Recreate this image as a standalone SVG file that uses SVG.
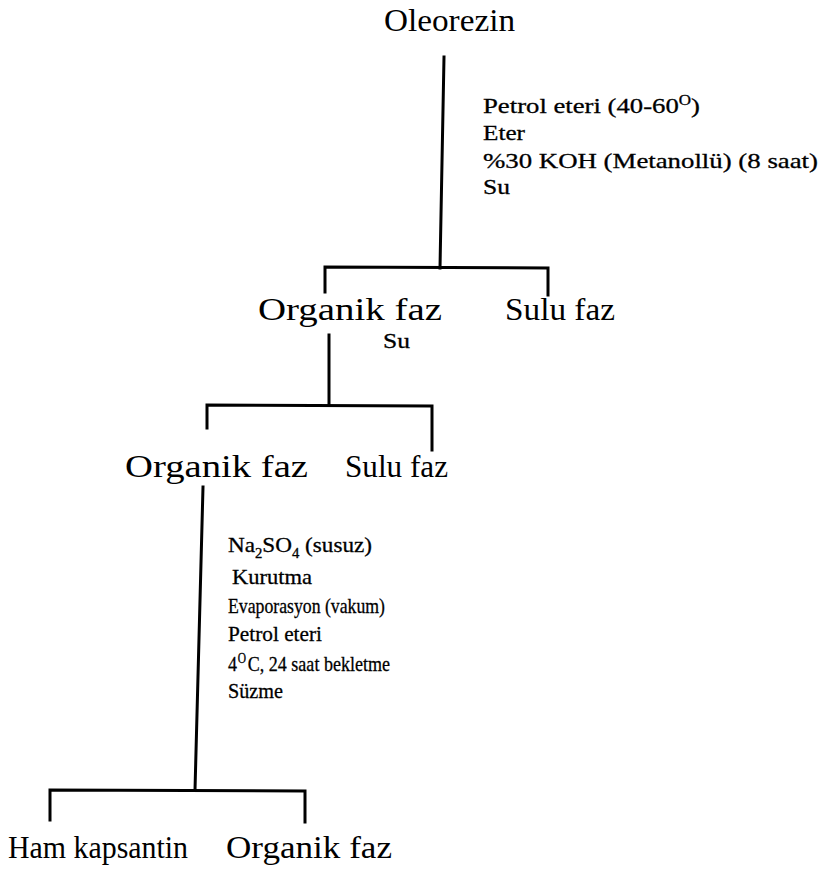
<svg xmlns="http://www.w3.org/2000/svg" width="820" height="871" viewBox="0 0 820 871">
<style>
.ln{stroke:#000;stroke-width:3;fill:none;stroke-linecap:square}
.big{font-family:"Liberation Serif","Times New Roman",serif;font-size:31px;fill:#000}
.lbl{font-family:"Liberation Serif","Times New Roman",serif;font-size:22px;fill:#000;stroke:#000;stroke-width:0.3}
.sm{font-size:14px}
</style>
<rect width="820" height="871" fill="#fff"/>
<g id="connectors">
<path class="ln" d="M444,57 L440,268"/>
<path class="ln" d="M325,292 L325,267 L548,268 L548,295"/>
<path class="ln" d="M329,335 L329,405"/>
<path class="ln" d="M207,428 L207,405 L432,406 L432,450"/>
<path class="ln" d="M203,487 L195,790"/>
<path class="ln" d="M50,820 L50,790 L305,791 L305,822"/>
</g>
<g id="oleorezin"><text class="big" x="384" y="31" textLength="131" lengthAdjust="spacingAndGlyphs">Oleorezin</text></g>
<g id="step1-labels">
<text class="lbl" x="483" y="113" textLength="217" lengthAdjust="spacingAndGlyphs">Petrol eteri (40-60<tspan class="sm" dy="-8">O</tspan><tspan dy="8">)</tspan></text>
<text class="lbl" x="483" y="140" textLength="42" lengthAdjust="spacingAndGlyphs">Eter</text>
<text class="lbl" x="483" y="168" textLength="335" lengthAdjust="spacingAndGlyphs">%30 KOH (Metanollü) (8 saat)</text>
<text class="lbl" x="483" y="194" textLength="27" lengthAdjust="spacingAndGlyphs">Su</text>
</g>
<g id="organik1"><text class="big" x="258" y="320" textLength="184" lengthAdjust="spacingAndGlyphs">Organik faz</text></g>
<g id="sulu1"><text class="big" x="505" y="320" textLength="110" lengthAdjust="spacingAndGlyphs">Sulu faz</text></g>
<g id="step2-labels"><text class="lbl" x="383" y="348" textLength="27" lengthAdjust="spacingAndGlyphs">Su</text></g>
<g id="organik2"><text class="big" x="125" y="477" textLength="183" lengthAdjust="spacingAndGlyphs">Organik faz</text></g>
<g id="sulu2"><text class="big" x="345" y="477" textLength="103" lengthAdjust="spacingAndGlyphs">Sulu faz</text></g>
<g id="step3-labels">
<text class="lbl" x="228" y="552" textLength="144" lengthAdjust="spacingAndGlyphs">Na<tspan class="sm" dy="6">2</tspan><tspan dy="-6">SO</tspan><tspan class="sm" dy="6">4</tspan><tspan dy="-6"> (susuz)</tspan></text>
<text class="lbl" x="232" y="584" textLength="80" lengthAdjust="spacingAndGlyphs">Kurutma</text>
<text class="lbl" x="228" y="613" textLength="157" lengthAdjust="spacingAndGlyphs">Evaporasyon (vakum)</text>
<text class="lbl" x="228" y="641" textLength="94" lengthAdjust="spacingAndGlyphs">Petrol eteri</text>
<text class="lbl" x="228" y="671" textLength="162" lengthAdjust="spacingAndGlyphs">4<tspan class="sm" dx="1" dy="-8">O</tspan><tspan dx="2" dy="8">C, 24 saat bekletme</tspan></text>
<text class="lbl" x="228" y="698" textLength="55" lengthAdjust="spacingAndGlyphs">Süzme</text>
</g>
<g id="ham-kapsantin"><text class="big" x="8" y="858" textLength="180" lengthAdjust="spacingAndGlyphs">Ham kapsantin</text></g>
<g id="organik3"><text class="big" x="226" y="858" textLength="166" lengthAdjust="spacingAndGlyphs">Organik faz</text></g>
</svg>
